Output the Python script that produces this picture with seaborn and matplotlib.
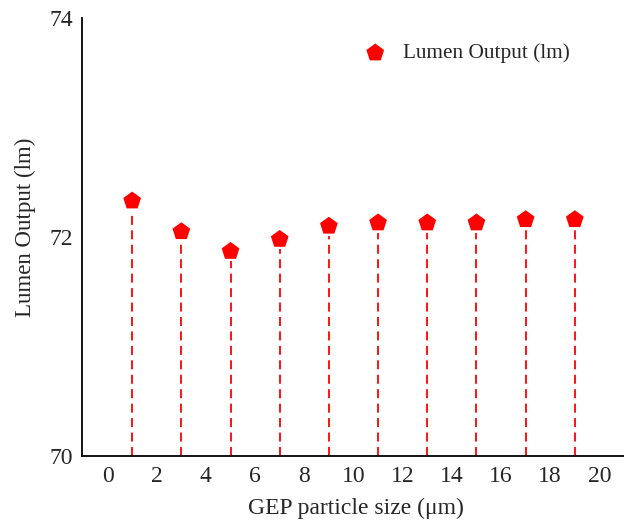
import numpy as np
import pandas as pd
import matplotlib
matplotlib.use("Agg")
import matplotlib.pyplot as plt
import seaborn as sns

# particle sizes (um) and measured lumen output (lm)
particle_size = [1, 3, 5, 7, 9, 11, 13, 15, 17, 19]
lumen_output = [72.33, 72.05, 71.87, 71.98, 72.10, 72.13, 72.13, 72.13, 72.16, 72.16]
x_ticks = [0, 2, 4, 6, 8, 10, 12, 14, 16, 18, 20]
y_ticks = [70, 72, 74]

sns.set_style("white")
plt.rcParams['font.family'] = ['Liberation Serif', 'DejaVu Serif']

df = pd.DataFrame({'size': particle_size, 'lumen': lumen_output})

fig = plt.figure(figsize=(6.24, 5.25), dpi=100)
ax = fig.add_axes([0.131, 0.131, 0.869, 0.835])

# dashed drop lines from the baseline to each point
ax.vlines(df['size'], 70, df['lumen'] - 0.09, colors='red',
          linestyles=(0, (5, 3)), linewidth=1.3, zorder=1)

sns.scatterplot(data=df, x='size', y='lumen', marker='p', color='red',
                s=180, edgecolor='none', ax=ax, zorder=3,
                label='Lumen Output (lm)')

ax.set_xlim(-1.05, 21.0)
ax.set_ylim(70, 74)
ax.set_xticks(x_ticks)
ax.set_yticks(y_ticks)
ax.tick_params(axis='both', length=0, labelsize=17)
ax.tick_params(axis='x', pad=7)
ax.tick_params(axis='y', pad=6)
ax.set_xlabel('GEP particle size (μm)', fontsize=17, labelpad=8)
ax.set_ylabel('Lumen Output (lm)', fontsize=16.5, labelpad=10)
ax.xaxis.label.set_x(0.505)
ax.yaxis.label.set_y(0.523)

for side in ['top', 'right']:
    ax.spines[side].set_visible(False)
for side in ['left', 'bottom']:
    ax.spines[side].set_color('black')
    ax.spines[side].set_linewidth(1.3)

ax.legend(loc='upper right', frameon=False, fontsize=15.3,
          bbox_to_anchor=(0.935, 0.985), handletextpad=0.3)

plt.savefig('out.png', dpi=100)
plt.close()
